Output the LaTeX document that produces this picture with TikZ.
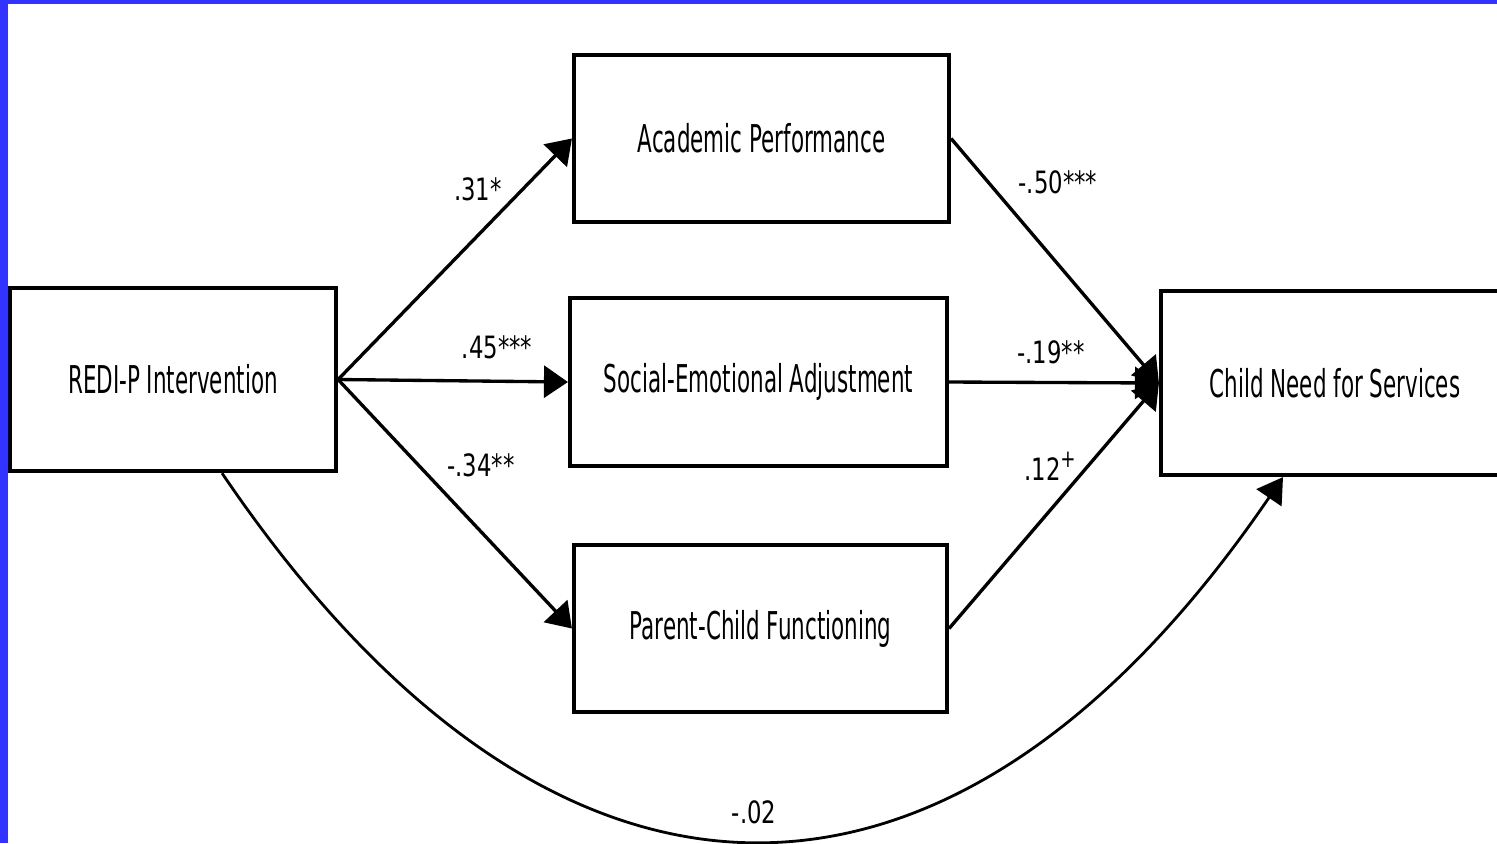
\documentclass[tikz,border=0pt]{standalone}
\usepackage{fontspec}
\setmainfont{DejaVu Sans}
\newfontfamily\boxfont{DejaVu Sans}[FakeStretch=0.56]
\newfontfamily\coeffont{DejaVu Sans}[FakeStretch=0.74]
\usetikzlibrary{arrows.meta,calc}
\definecolor{frameblue}{RGB}{51,51,255}

\begin{document}
\begin{tikzpicture}[x=0.02cm,y=-0.02cm,every node/.style={align=center},
  var/.style={draw,line width=2.4pt,inner sep=0pt,font=\boxfont\fontsize{21.8}{24}\selectfont},
  coef/.style={inner sep=1pt,font=\coeffont\fontsize{17.5}{20}\selectfont},
  effect/.style={line width=1.9pt,-{Triangle[length=0.48cm,width=0.64cm]}}]
\useasboundingbox (0,0) rectangle (1497,843);
\fill[white] (0,0) rectangle (1497,843);
\fill[frameblue] (0,0) rectangle (1497,4);
\fill[frameblue] (0,0) rectangle (8,843);
\node[var,minimum width=6.52cm,minimum height=3.66cm] (redi) at (173,379.5) {REDI-P Intervention};
\node[var,minimum width=7.5cm,minimum height=3.34cm] (acad) at (761.5,138.5) {Academic Performance};
\node[var,minimum width=7.54cm,minimum height=3.36cm] (social) at (758.5,382) {Social-Emotional Adjustment};
\node[var,minimum width=7.46cm,minimum height=3.34cm] (parent) at (760.5,628.5) {Parent-Child Functioning};
\node[var,minimum width=6.96cm,minimum height=3.68cm] (child) at (1335,383) {Child Need for Services};
% a paths
\draw[effect] (redi.east) -- (acad.west);
\draw[effect] (redi.east) -- (social.west);
\draw[effect] (redi.east) -- (parent.west);
% b paths
\draw[effect] (acad.east) -- (child.west);
\draw[effect] (social.east) -- (child.west);
\draw[effect] (parent.east) -- (child.west);
% direct path
\draw[line width=1.6pt,-{Triangle[length=0.5cm,width=0.6cm]}] ($(redi.south)+(49,0)$) .. controls (553,962) and (952,962) .. ($(child.south)+(-52,0)$);
\node[coef] (c31) at (478,189.5) {.31*};
\node[coef] (c45) at (497,347.5) {.45***};
\node[coef] (c34) at (481,465) {-.34**};
\node[coef] (c50) at (1058,182) {-.50***};
\node[coef] (c19) at (1051,352) {-.19**};
\node[coef] (c12) at (1050,466) {.12\raisebox{0.42em}{\fontsize{14}{14}\selectfont +}};
\node[coef] (c02) at (754,812) {-.02};
\end{tikzpicture}
\end{document}
